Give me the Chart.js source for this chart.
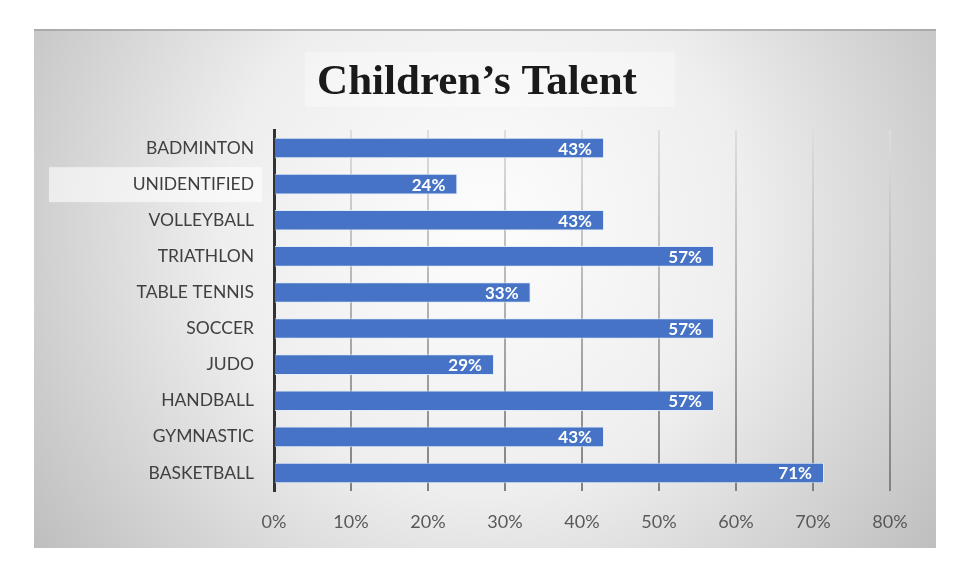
<!DOCTYPE html>
<html>
<head>
<meta charset="utf-8">
<title>Children's Talent</title>
<script src="https://cdn.jsdelivr.net/npm/chart.js@4.4.1/dist/chart.umd.min.js"></script>
<style>
  html, body { margin: 0; padding: 0; background: #fff; }
  #wrap { width: 964px; height: 573px; position: relative; }
</style>
</head>
<body>
<div id="wrap"><canvas id="talentChart" width="964" height="573"></canvas></div>
<script>
// data
const chartTitle = 'Children\u2019s Talent';
const categories = ['BADMINTON', 'UNIDENTIFIED', 'VOLLEYBALL', 'TRIATHLON', 'TABLE TENNIS',
                    'SOCCER', 'JUDO', 'HANDBALL', 'GYMNASTIC', 'BASKETBALL'];
const talentShare = [42.86, 23.81, 42.86, 57.14, 33.33, 57.14, 28.57, 57.14, 42.86, 71.43];
const xTickValues = [0, 10, 20, 30, 40, 50, 60, 70, 80];
const highlightedCategory = 'UNIDENTIFIED';

const labelFont = 'Lato, "Open Sans", sans-serif';

// panel background, title and the highlighted label box
const backdrop = {
  id: 'backdrop',
  beforeDraw(chart) {
    const ctx = chart.ctx;
    ctx.save();
    ctx.fillStyle = '#ffffff';
    ctx.fillRect(0, 0, chart.width, chart.height);

    const px = 34, py = 29, pw = 902, ph = 519;
    const g = ctx.createRadialGradient(485, 230, 20, 485, 230, 560);
    g.addColorStop(0, '#fcfcfc');
    g.addColorStop(0.45, '#eeeeee');
    g.addColorStop(1, '#bdbdbd');
    ctx.fillStyle = g;
    ctx.fillRect(px, py, pw, ph);
    ctx.fillStyle = 'rgba(150,150,150,0.6)';
    ctx.fillRect(px, py, pw, 2);

    // faint white box behind the title
    ctx.fillStyle = 'rgba(255,255,255,0.35)';
    ctx.fillRect(305, 52, 370, 55);
    ctx.fillStyle = '#1a1a1a';
    ctx.font = 'bold 43px "Liberation Serif", "Times New Roman", serif';
    ctx.textAlign = 'center';
    ctx.textBaseline = 'alphabetic';
    ctx.fillText(chartTitle, 477, 94);

    // light box behind one category label
    const y = chart.scales.y;
    const idx = categories.indexOf(highlightedCategory);
    if (idx >= 0) {
      const cy = y.getPixelForValue(idx);
      ctx.fillStyle = 'rgba(255,255,255,0.6)';
      ctx.fillRect(49, cy - 17, 213, 35);
    }
    ctx.restore();
  }
};

// value labels at the inner end of each bar
const barValues = {
  id: 'barValues',
  afterDatasetsDraw(chart) {
    const ctx = chart.ctx;
    const meta = chart.getDatasetMeta(0);
    ctx.save();
    ctx.fillStyle = '#ffffff';
    ctx.font = 'bold 17px ' + labelFont;
    ctx.textAlign = 'right';
    ctx.textBaseline = 'middle';
    meta.data.forEach((bar, i) => {
      ctx.fillText(Math.round(talentShare[i]) + '%', bar.x - 12, bar.y + 1);
    });
    ctx.restore();
  }
};

new Chart(document.getElementById('talentChart'), {
  type: 'bar',
  data: {
    labels: categories,
    datasets: [{
      data: talentShare,
      backgroundColor: '#4673c5',
      borderColor: 'rgba(225,235,250,0.9)',
      borderWidth: 1,
      categoryPercentage: 1,
      barPercentage: 0.57
    }]
  },
  options: {
    indexAxis: 'y',
    responsive: false,
    animation: false,
    layout: { padding: { left: 0, right: 74, top: 130, bottom: 0 } },
    plugins: {
      legend: { display: false },
      title: { display: false },
      tooltip: { enabled: false }
    },
    scales: {
      x: {
        min: 0,
        max: 80,
        afterBuildTicks(scale) { scale.ticks = xTickValues.map(v => ({ value: v })); },
        afterFit(scale) { scale.height = 82; },
        ticks: {
          padding: 20,
          color: '#595959',
          font: { family: labelFont, size: 18 },
          callback: v => v + '%'
        },
        border: { display: false },
        grid: {
          drawTicks: false,
          lineWidth: 2,
          color(c) {
            if (c.tick && c.tick.value === 0) return 'rgba(0,0,0,0)';
            const a = c.chart.chartArea;
            if (!a) return '#aaaaaa';
            const g = c.chart.ctx.createLinearGradient(0, a.top, 0, a.bottom);
            g.addColorStop(0, '#dedede');
            g.addColorStop(0.5, '#b0b0b0');
            g.addColorStop(1, '#808080');
            return g;
          }
        }
      },
      y: {
        afterFit(scale) { scale.width = 274; },
        ticks: {
          padding: 20,
          color: '#404040',
          font: { family: labelFont, size: 17.5 }
        },
        grid: { display: false, drawTicks: false },
        border: { display: true, color: '#333333', width: 3 }
      }
    }
  },
  plugins: [backdrop, barValues]
});
</script>
</body>
</html>
